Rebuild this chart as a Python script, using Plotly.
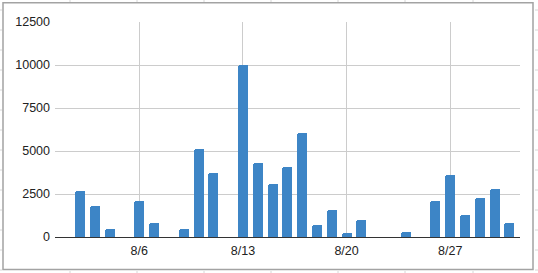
import plotly.graph_objects as go

dates = ["2017-08-02", "2017-08-03", "2017-08-04", "2017-08-06", "2017-08-07",
         "2017-08-09", "2017-08-10", "2017-08-11", "2017-08-13", "2017-08-14",
         "2017-08-15", "2017-08-16", "2017-08-17", "2017-08-18", "2017-08-19",
         "2017-08-20", "2017-08-21", "2017-08-24", "2017-08-26", "2017-08-27",
         "2017-08-28", "2017-08-29", "2017-08-30", "2017-08-31"]
values = [2670, 1820, 480, 2100, 830,
          480, 5130, 3730, 10000, 4320,
          3110, 4080, 6060, 710, 1580,
          250, 1000, 300, 2100, 3620,
          1290, 2280, 2800, 830]
tick_dates = ["2017-08-06", "2017-08-13", "2017-08-20", "2017-08-27"]
tick_labels = ["8/6", "8/13", "8/20", "8/27"]
y_ticks = [0, 2500, 5000, 7500, 10000, 12500]
y_tick_labels = ["0", "2500", "5000", "7500", "10000", "12500"]

W, H = 538, 273
L, R, T, B = 55, 18, 22, 36
pw, ph = W - L - R, H - T - B

def px(x):
    return (x - L) / pw

def py(y):
    return (H - B - y) / ph

fig = go.Figure()
fig.add_trace(go.Bar(
    x=dates, y=values,
    width=0.675 * 86400000,
    marker=dict(color="#3d85c6", line=dict(width=0), cornerradius=2),
    hoverinfo="x+y",
))

shapes = []
grey = "#d6d6d6"
# faint spreadsheet grid marks outside the chart frame
for yy in range(10, 271, 20):
    shapes.append(dict(type="line", xref="paper", yref="paper",
                       x0=px(0), x1=px(2), y0=py(yy), y1=py(yy),
                       line=dict(color=grey, width=1)))
    shapes.append(dict(type="line", xref="paper", yref="paper",
                       x0=px(535), x1=px(538), y0=py(yy), y1=py(yy),
                       line=dict(color=grey, width=1)))
for xx in [70, 137, 204, 271, 338, 405, 473]:
    shapes.append(dict(type="line", xref="paper", yref="paper",
                       x0=px(xx), x1=px(xx), y0=py(0), y1=py(2),
                       line=dict(color=grey, width=1)))
    shapes.append(dict(type="line", xref="paper", yref="paper",
                       x0=px(xx), x1=px(xx), y0=py(271), y1=py(273),
                       line=dict(color=grey, width=1)))
# chart frame
shapes.append(dict(type="rect", xref="paper", yref="paper",
                   x0=px(3), x1=px(533), y0=py(269.5), y1=py(2.7),
                   line=dict(color="#a3a3a3", width=1.5)))

fig.update_layout(
    width=W, height=H,
    margin=dict(l=L, r=R, t=T, b=B),
    paper_bgcolor="white", plot_bgcolor="white",
    font=dict(family="Arial, Liberation Sans, sans-serif", size=12.5, color="#222222"),
    showlegend=False,
    bargap=0,
    shapes=shapes,
    xaxis=dict(
        type="date",
        range=["2017-07-31 07:26", "2017-08-31 17:02"],
        tickvals=tick_dates, ticktext=tick_labels,
        showgrid=True, gridcolor="#cccccc", gridwidth=1,
        showline=False, zeroline=False, ticks="",
        ticklabelstandoff=4,
    ),
    yaxis=dict(
        range=[0, 12500],
        tickvals=y_ticks, ticktext=y_tick_labels,
        showgrid=True, gridcolor="#cccccc", gridwidth=1,
        zeroline=True, zerolinecolor="#333333", zerolinewidth=1,
        showline=False, ticks="",
        ticklabelstandoff=4,
    ),
)

fig.write_html("out.html")
